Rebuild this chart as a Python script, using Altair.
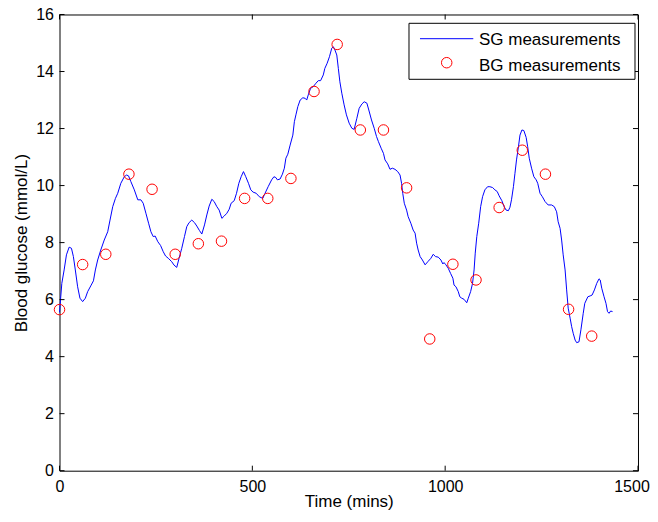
import altair as alt
import pandas as pd

# SG (sensor glucose) trace
sg_t = [0, 6, 12, 18, 25, 31, 36, 41, 47, 53, 60, 67, 73, 81, 88, 93, 99, 107, 116, 125,
        131, 138, 145, 151, 159, 168, 174, 179, 185, 194, 203, 211, 217, 224, 231, 237, 243, 248, 255, 262,
        269, 275, 282, 291, 297, 304, 310, 317, 324, 330, 336, 343, 350, 356, 363, 369, 376, 382, 388, 395,
        401, 408, 414, 421, 427, 434, 440, 445, 453, 459, 465, 471, 477, 483, 490, 496, 502, 510, 518, 527,
        533, 541, 550, 556, 561, 565, 572, 578, 583, 587, 592, 598, 605, 609, 613, 618, 624, 631, 637, 641,
        645, 651, 658, 665, 671, 677, 684, 688, 694, 700, 706, 710, 714, 719, 723, 727, 732, 738, 744, 751,
        758, 764, 771, 777, 784, 790, 797, 802, 809, 816, 822, 827, 834, 840, 844, 851, 857, 863, 870, 877,
        883, 887, 890, 894, 900, 904, 911, 917, 922, 926, 930, 935, 941, 948, 955, 963, 969, 975, 982, 989,
        994, 997, 1002, 1008, 1014, 1020, 1023, 1028, 1034, 1038, 1043, 1049, 1056, 1060, 1066, 1071, 1075, 1078, 1082, 1087,
        1092, 1097, 1103, 1110, 1116, 1123, 1129, 1135, 1140, 1147, 1153, 1158, 1164, 1168, 1172, 1177, 1181, 1185, 1190, 1194,
        1199, 1204, 1210, 1214, 1218, 1224, 1230, 1236, 1240, 1246, 1252, 1259, 1267, 1276, 1283, 1289, 1293, 1298, 1302, 1306,
        1311, 1315, 1319, 1324, 1328, 1332, 1337, 1341, 1347, 1352, 1358, 1362, 1370, 1376, 1381, 1387, 1393, 1399, 1402, 1406,
        1412, 1417, 1421, 1425, 1429, 1434]
sg_v = [5.55, 6.57, 7.04, 7.57, 7.84, 7.80, 7.51, 7.04, 6.45, 6.05, 5.93, 6.05, 6.28, 6.48, 6.66, 7.04, 7.39, 7.74, 8.09, 8.38,
        8.79, 9.26, 9.55, 9.73, 10.08, 10.31, 10.37, 10.34, 10.14, 9.85, 9.50, 9.50, 9.38, 9.03, 8.68, 8.38, 8.21, 8.23, 8.03, 7.90,
        7.68, 7.53, 7.45, 7.33, 7.21, 7.13, 7.45, 7.80, 8.21, 8.56, 8.70, 8.79, 8.70, 8.58, 8.42, 8.30, 8.62, 8.97, 9.28, 9.52,
        9.44, 9.26, 9.14, 8.85, 8.93, 9.03, 9.17, 9.38, 9.47, 9.73, 10.08, 10.31, 10.49, 10.31, 10.08, 9.85, 9.77, 9.73, 9.61, 9.55,
        9.73, 9.96, 10.20, 10.31, 10.28, 10.20, 10.23, 10.40, 10.61, 10.96, 11.10, 11.42, 11.77, 12.24, 12.48, 12.77, 13.00, 13.08, 13.06, 13.00,
        13.18, 13.41, 13.47, 13.59, 13.68, 13.68, 13.88, 14.11, 14.29, 14.52, 14.82, 14.87, 14.76, 14.58, 14.11, 13.64, 13.24, 12.83, 12.48, 12.19,
        12.01, 11.97, 12.36, 12.71, 12.86, 12.94, 12.89, 12.65, 12.30, 12.01, 11.72, 11.54, 11.31, 11.13, 10.90, 10.76, 10.57, 10.61, 10.57, 10.49,
        10.37, 10.08, 9.73, 9.38, 9.14, 8.91, 8.68, 8.44, 8.33, 7.98, 7.74, 7.51, 7.39, 7.22, 7.33, 7.45, 7.59, 7.51, 7.49, 7.39,
        7.25, 7.30, 7.22, 7.10, 6.92, 6.75, 6.51, 6.45, 6.28, 6.10, 6.05, 6.01, 5.89, 6.05, 6.28, 6.57, 7.04, 7.63, 8.21, 8.68,
        9.26, 9.61, 9.85, 9.96, 9.96, 9.93, 9.85, 9.79, 9.64, 9.47, 9.26, 9.14, 9.12, 9.24, 9.50, 9.96, 10.43, 10.90, 11.36, 11.77,
        11.95, 11.93, 11.69, 11.36, 10.96, 10.61, 10.31, 10.20, 10.08, 9.73, 9.61, 9.44, 9.32, 9.32, 9.26, 9.08, 8.73, 8.50, 8.09, 7.57,
        7.04, 6.34, 5.70, 5.35, 5.05, 4.82, 4.58, 4.49, 4.52, 4.94, 5.52, 5.87, 6.10, 6.13, 6.16, 6.34, 6.57, 6.73, 6.69, 6.40,
        6.10, 5.87, 5.58, 5.52, 5.60, 5.58]

# BG (blood glucose) measurements, every 60 minutes
bg_t = [0, 60, 120, 180, 240, 300, 360, 420, 480, 540, 600, 660, 720, 780, 840, 900,
        960, 1020, 1080, 1140, 1200, 1260, 1320, 1380]
bg_v = [5.65, 7.23, 7.59, 10.40, 9.87, 7.59, 7.96, 8.05, 9.55, 9.55, 10.25, 13.30, 14.95, 11.95, 11.95, 9.92,
        4.62, 7.24, 6.69, 9.23, 11.24, 10.40, 5.66, 4.72]

x_ticks = [0, 500, 1000, 1500]
y_ticks = [0, 2, 4, 6, 8, 10, 12, 14, 16]
series_names = ["SG measurements", "BG measurements"]
x_title = "Time (mins)"
y_title = "Blood glucose (mmol/L)"

W, H = 578.5, 456.2
TL = 5  # inward tick length
FONT = "Liberation Sans"

sg = pd.DataFrame({"t": sg_t, "v": sg_v})
bg = pd.DataFrame({"t": bg_t, "v": bg_v})
xt = pd.DataFrame({"t": x_ticks})
yt = pd.DataFrame({"v": y_ticks})
one = pd.DataFrame({"k": [0]})

xs = alt.Scale(domain=[0, 1500], nice=False, zero=False)
ys = alt.Scale(domain=[0, 16], nice=False, zero=False)
x_axis = alt.Axis(values=x_ticks, format="d", grid=False, domain=False, ticks=False, tickSize=0,
                  labelPadding=8, titleY=36.3, titleBaseline="alphabetic", labelFlush=False,
                  labelOffset={"condition": {"test": "datum.value === 1500", "value": -6.5},
                               "value": 0})
y_axis = alt.Axis(values=y_ticks, format="d", grid=False, domain=False, ticks=False, tickSize=0,
                  labelPadding=6, titlePadding=5)


def X():
    return alt.X("t:Q", scale=xs, title=x_title, axis=x_axis)


def Y():
    return alt.Y("v:Q", scale=ys, title=y_title, axis=y_axis)


line = alt.Chart(sg).mark_line(color="#0000FF", strokeWidth=1).encode(x=X(), y=Y())

points = alt.Chart(bg).mark_point(shape="circle", filled=False, color="#FF0000",
                                  size=110, strokeWidth=1, opacity=1).encode(x=X(), y=Y())

tick_style = dict(color="black", strokeWidth=1)
left_ticks = alt.Chart(yt).mark_rule(**tick_style).encode(
    y=Y(), x=alt.value(0), x2=alt.value(TL))
right_ticks = alt.Chart(yt).mark_rule(**tick_style).encode(
    y=Y(), x=alt.value(W - TL), x2=alt.value(W))
bottom_ticks = alt.Chart(xt).mark_rule(**tick_style).encode(
    x=X(), y=alt.value(H), y2=alt.value(H - TL))
top_ticks = alt.Chart(xt).mark_rule(**tick_style).encode(
    x=X(), y=alt.value(0), y2=alt.value(TL))

# legend box (top right, MATLAB style)
LX0, LX1, LY0, LY1 = 349.5, 575.5, 8.8, 64.8
legend_box = alt.Chart(one).mark_rect(fill="white", stroke="black", strokeWidth=1).encode(
    x=alt.value(LX0), x2=alt.value(LX1), y=alt.value(LY0), y2=alt.value(LY1))
legend_line = alt.Chart(one).mark_rule(color="#0000FF", strokeWidth=1).encode(
    x=alt.value(360.5), x2=alt.value(413.8), y=alt.value(24.2))
legend_circle = alt.Chart(one).mark_point(shape="circle", filled=False, color="#FF0000",
                                          size=110, strokeWidth=1, opacity=1).encode(
    x=alt.value(387.2), y=alt.value(48.2))
legend_text1 = alt.Chart(one).mark_text(align="left", baseline="middle", font=FONT,
                                        fontSize=17, color="black").encode(
    x=alt.value(419.5), y=alt.value(25.5), text=alt.value(series_names[0]))
legend_text2 = alt.Chart(one).mark_text(align="left", baseline="middle", font=FONT,
                                        fontSize=17, color="black").encode(
    x=alt.value(419.5), y=alt.value(51.3), text=alt.value(series_names[1]))

chart = alt.layer(
    line, points, left_ticks, right_ticks, bottom_ticks, top_ticks,
    legend_box, legend_line, legend_circle, legend_text1, legend_text2,
).properties(
    width=W, height=H,
    padding={"left": 51.5, "top": 6.5, "right": 12, "bottom": 40},
    autosize=alt.AutoSizeParams(type="none"),
    background="white",
).configure_view(
    stroke="black", strokeWidth=1, fill="white"
).configure_axis(
    labelFont=FONT, titleFont=FONT, labelFontSize=16, titleFontSize=17,
    labelColor="black", titleColor="black", titleFontWeight="normal",
)

chart.save("out.html", embed_options={"renderer": "svg", "actions": False})
